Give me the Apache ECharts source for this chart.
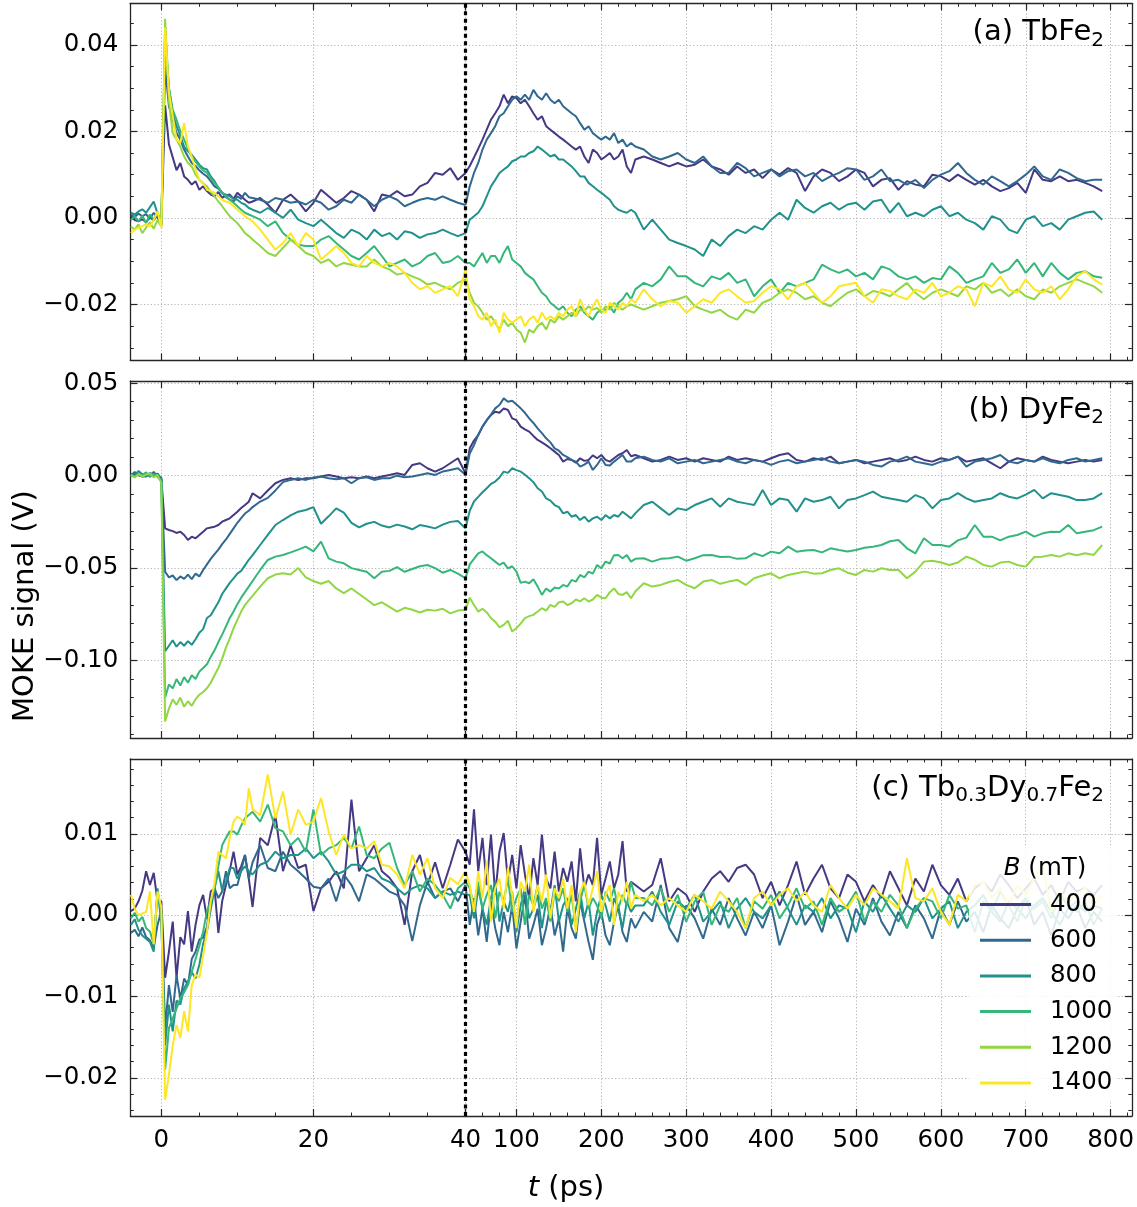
<!DOCTYPE html>
<html>
<head>
<meta charset="utf-8">
<script src="https://cdn.jsdelivr.net/npm/echarts@6/dist/echarts.min.js"></script>
<style>
  html, body { margin: 0; padding: 0; background: #ffffff; }
  #chart { width: 1137px; height: 1207px; }
</style>
</head>
<body>
<div id="chart"></div>
<script>
// Pump-probe delay (ps): dense sampling up to 40 ps, then the long-delay window
const timePs = [
  -4,-3.5,-3,-2.5,-2,-1.5,-1,-0.5,0,0.5,1,1.5,2,2.5,3,3.5,4,4.5,5,5.5,6,6.5,7,7.5,8,8.5,9,9.5,10,10.5,11,11.5,12,
  13,14,15,16,17,18,19,20,21,22,23,24,25,26,27,28,29,30,31,32,33,34,35,36,37,38,39,40,
  45,50,55,60,65,70,75,80,85,90,95,100,105,110,115,120,125,130,135,140,145,150,155,160,165,170,175,180,185,190,195,200,205,210,215,220,225,230,235,240,
  250,260,270,280,290,300,310,320,330,340,350,360,370,380,390,400,410,420,430,440,450,460,470,480,490,500,510,520,530,540,550,560,570,580,590,600,610,620,630,640,650,660,670,680,690,700,710,720,730,740,750,760,770,780,790
];

// Applied field B (mT)
const fieldLabels = ['400', '600', '800', '1000', '1200', '1400'];

// MOKE signal, mV — (a) TbFe2
const tbFe2_400 = [
  0.4,-0.5,-0.8,-0.3,-1.0,0.2,-0.6,0.8,-1.5,26.0,17.0,14.0,11.0,12.7,9.6,8.8,7.7,8.5,6.5,7.3,6.2,5.4,5.0,6.0,4.6,5.2,5.4,4.4,5.8,5.0,4.2,3.5,3.8,
  4.6,3.1,1.2,4.2,5.4,3.8,1.5,3.5,6.5,5.0,3.5,4.6,6.2,5.4,4.2,1.5,5.4,5.0,6.2,5.0,5.4,7.3,8.1,10.4,10.0,11.5,8.8,10.4,
  12.0,14.0,16.0,18.1,20.4,22.7,24.2,25.8,28.5,26.5,28.1,27.7,26.5,27.3,25.8,24.2,22.7,23.5,21.2,20.4,19.6,18.8,18.1,17.3,16.5,15.8,16.5,14.2,12.7,15.8,15.0,13.5,14.2,15.0,13.5,14.2,15.8,11.9,10.4,13.5,
  14.2,13.5,12.7,11.9,12.7,11.9,12.3,13.5,11.9,11.2,10.0,11.9,10.4,11.2,9.2,11.2,10.0,11.5,10.4,6.2,9.6,11.2,10.4,8.5,9.6,11.2,10.4,7.3,8.8,9.2,6.5,8.5,7.7,7.3,10.0,9.6,8.5,10.0,8.8,7.7,8.8,7.3,6.2,6.9,8.1,5.8,11.2,8.8,8.5,9.6,8.5,8.8,8.1,7.3,6.2
];
const tbFe2_600 = [
  0.8,0.2,1.0,0.4,0.9,-0.2,1.2,0.0,-1.2,35.0,25.8,22.7,19.6,18.1,15.8,14.2,12.7,12.0,11.0,10.2,9.6,8.5,7.3,6.8,5.8,4.8,4.2,3.8,5.0,4.4,5.8,4.8,4.6,
  4.2,3.5,4.6,4.2,3.5,3.8,3.1,4.2,3.5,1.9,2.7,4.2,3.5,5.4,4.2,2.7,4.2,5.0,4.2,2.7,3.5,4.2,4.6,4.2,5.0,4.2,3.5,3.0,
  7.3,10.4,12.7,15.8,18.1,19.6,21.2,23.5,24.2,25.8,27.3,28.1,27.3,28.5,27.3,29.6,28.1,27.3,28.8,27.3,26.5,27.3,25.8,25.0,24.2,23.5,21.9,20.4,21.2,19.6,18.8,18.1,18.8,18.1,19.6,17.3,18.1,16.5,17.3,16.5,
  15.8,14.2,13.5,14.2,15.0,13.5,12.7,14.2,11.9,10.4,10.4,12.7,11.5,9.6,10.4,11.2,9.6,10.8,11.2,9.6,10.4,8.5,9.6,10.4,11.5,11.2,8.8,9.6,11.2,8.5,8.8,7.7,8.8,6.9,8.8,10.0,10.8,12.7,10.4,8.8,7.7,9.6,8.5,7.3,8.5,10.0,11.9,9.6,8.8,11.2,10.4,9.2,8.5,8.8,8.8
];
const tbFe2_800 = [
  1.2,0.8,1.5,2.0,1.2,2.5,3.8,1.0,-1.5,41.0,30.0,24.2,21.2,19.0,16.5,15.4,14.6,13.5,12.3,11.5,11.2,9.6,8.5,7.0,5.8,5.4,5.0,4.4,4.2,3.5,3.1,2.3,1.9,
  1.2,2.3,1.2,0.0,1.9,-0.4,-1.2,-1.9,-0.4,-1.9,-3.5,-4.6,-2.7,-3.5,-5.0,-2.7,-4.2,-3.5,-5.0,-3.1,-3.5,-4.6,-3.8,-3.5,-2.7,-3.5,-4.2,-3.5,
  -0.4,0.4,1.2,2.7,5.0,7.3,8.8,10.4,11.2,11.9,13.1,13.5,14.2,14.2,15.0,15.4,16.5,15.8,15.0,14.2,14.6,13.5,13.5,12.7,11.9,10.8,9.6,9.6,8.1,7.3,6.5,5.8,5.0,4.2,2.7,1.9,1.5,1.2,1.9,1.2,
  -2.7,-0.4,-2.7,-5.0,-5.8,-6.5,-7.3,-8.8,-5.0,-6.5,-4.2,-2.7,-3.5,-1.9,-2.7,-0.4,1.2,-0.4,4.2,2.3,1.2,2.7,3.5,1.9,3.1,3.5,1.9,3.8,4.2,1.2,3.5,0.4,1.2,0.4,1.9,2.7,0.4,1.2,-0.4,-1.2,-2.7,0.4,-0.4,-2.7,-3.5,-0.4,0.4,-1.9,-1.2,-2.7,-0.4,0.4,1.2,1.5,-0.4
];
const tbFe2_1000 = [
  -0.5,0.3,-0.8,0.5,-1.2,0.8,-0.4,1.5,-2.0,44.0,30.0,25.0,22.7,20.0,18.1,16.0,14.2,13.0,11.9,11.0,10.4,9.2,8.1,7.0,5.8,5.0,4.2,3.5,2.7,1.9,1.2,0.8,0.4,
  -0.4,-1.9,-0.8,-3.5,-5.0,-6.2,-6.5,-6.5,-5.0,-4.2,-5.8,-7.3,-8.8,-9.6,-8.1,-6.5,-8.8,-11.2,-10.4,-9.6,-11.2,-10.4,-8.8,-8.1,-10.4,-10.0,-8.8,-10.4,
  -10.4,-11.2,-9.6,-8.1,-10.4,-8.8,-8.8,-10.4,-8.1,-6.5,-9.6,-10.4,-11.2,-12.7,-13.5,-14.2,-15.8,-17.3,-18.1,-19.6,-20.4,-21.2,-20.4,-21.9,-22.7,-21.2,-20.4,-21.9,-22.7,-23.5,-21.9,-21.2,-21.2,-20.4,-21.9,-19.6,-18.8,-17.3,-18.8,-16.5,
  -15.0,-15.8,-14.2,-11.2,-13.5,-13.5,-15.0,-15.8,-13.5,-14.2,-12.7,-15.0,-14.2,-18.1,-15.8,-14.2,-17.3,-15.0,-15.8,-15.0,-14.2,-10.8,-11.9,-12.7,-11.9,-13.5,-12.7,-14.2,-11.2,-11.9,-13.5,-14.2,-13.5,-15.0,-13.9,-14.2,-11.2,-12.7,-15.0,-14.2,-13.5,-10.4,-12.7,-11.9,-9.6,-12.7,-10.4,-13.5,-10.4,-12.7,-14.2,-12.7,-12.3,-13.5,-13.8
];
const tbFe2_1200 = [
  -2.0,-2.7,-1.5,-3.5,-2.2,-1.0,-2.5,-0.5,-2.0,46.0,27.0,19.6,18.1,16.5,14.2,12.7,11.9,10.0,8.8,8.0,7.3,6.0,5.0,3.8,2.7,1.5,0.4,-0.4,-1.2,-2.3,-3.5,-4.2,-5.0,
  -6.5,-8.1,-8.8,-6.9,-5.0,-6.5,-8.1,-8.8,-10.4,-9.6,-11.2,-10.4,-10.8,-11.2,-11.2,-9.6,-11.2,-11.9,-13.1,-12.7,-13.5,-14.2,-15.4,-15.0,-15.8,-16.5,-15.0,-14.2,
  -17.3,-19.6,-20.4,-21.9,-23.5,-22.7,-24.2,-25.8,-23.5,-25.0,-24.2,-25.8,-26.5,-28.8,-25.8,-26.5,-25.0,-24.2,-25.8,-23.5,-24.2,-22.7,-23.5,-22.7,-21.9,-22.7,-21.2,-21.5,-20.4,-21.2,-20.8,-21.9,-20.4,-21.2,-19.6,-20.4,-21.2,-20.4,-20.0,-20.4,
  -21.2,-20.4,-19.6,-19.2,-18.8,-18.1,-20.4,-21.2,-21.9,-21.2,-22.7,-23.5,-21.2,-21.9,-19.6,-18.8,-17.3,-16.5,-17.3,-18.8,-18.1,-19.6,-20.4,-18.8,-17.3,-16.5,-18.1,-16.9,-17.3,-18.1,-16.5,-15.0,-17.3,-18.8,-17.3,-16.5,-17.3,-18.1,-15.8,-16.5,-15.0,-17.3,-16.5,-18.1,-16.5,-18.1,-18.8,-16.5,-17.3,-15.8,-15.0,-14.2,-15.0,-15.8,-17.3
];
const tbFe2_1400 = [
  -3.5,-2.7,-2.3,-1.9,-1.5,-2.0,-0.5,1.5,-2.3,44.0,29.0,23.5,18.1,17.3,21.9,16.5,14.2,11.2,8.8,8.1,6.5,6.2,5.8,5.0,4.2,3.8,3.5,2.7,1.9,1.2,0.4,-0.2,-0.8,
  -2.7,-5.0,-7.3,-5.8,-3.5,-6.5,-3.5,-5.0,-9.6,-8.1,-6.5,-8.1,-10.4,-11.2,-8.8,-10.4,-11.2,-10.4,-11.2,-12.7,-15.0,-16.5,-15.8,-17.3,-16.5,-15.8,-18.1,-12.0,
  -18.8,-20.4,-22.7,-23.5,-21.9,-25.0,-23.5,-26.5,-21.9,-23.5,-24.2,-23.5,-22.7,-25.0,-23.5,-22.7,-24.2,-21.9,-23.5,-22.7,-23.5,-21.9,-22.7,-21.2,-20.4,-22.7,-18.8,-21.2,-22.7,-20.4,-18.8,-21.2,-21.9,-19.6,-20.4,-21.2,-19.6,-20.4,-18.8,-19.6,
  -16.5,-18.8,-20.4,-19.2,-19.6,-21.9,-20.4,-18.8,-19.6,-17.3,-16.5,-18.1,-19.6,-19.2,-17.3,-15.8,-16.5,-18.8,-15.8,-15.0,-17.3,-19.6,-18.1,-15.8,-15.4,-15.0,-18.1,-19.6,-16.5,-16.9,-18.1,-18.8,-16.5,-17.3,-15.0,-18.1,-17.3,-15.8,-16.5,-20.4,-15.0,-15.8,-13.5,-16.5,-17.3,-14.2,-16.5,-17.3,-15.8,-18.8,-16.5,-13.5,-12.3,-14.2,-15.4
];

// MOKE signal, mV — (b) DyFe2
const dyFe2_400 = [
  0.5,1.5,0.2,-0.5,-0.3,0.8,-0.4,1.2,-2.0,-28.5,-29.4,-30.0,-31.0,-30.3,-32.1,-34.8,-33.0,-33.9,-32.1,-30.3,-28.5,-28.0,-27.6,-26.7,-24.9,-24.0,-23.1,-21.3,-19.5,-17.5,-15.9,-14.1,-9.5,
  -12.3,-8.0,-4.1,-2.3,-1.4,-2.3,-1.4,-1.4,-0.5,0.4,-0.5,-1.4,-0.9,-1.4,-0.5,-1.4,-0.5,0.4,1.3,0.4,5.8,6.7,4.0,2.2,4.0,6.7,9.4,1.3,
  14.8,19.0,22.0,26.5,30.0,32.8,34.6,34.0,36.4,35.5,31.0,30.0,26.5,25.0,23.8,21.5,19.3,18.0,16.5,14.8,13.0,11.2,7.6,9.0,8.5,7.0,9.4,8.0,8.5,11.0,9.4,11.2,8.5,7.6,9.4,11.2,12.1,13.9,10.5,11.2,
  9.4,7.6,8.5,10.3,8.5,9.4,7.6,9.4,8.5,7.6,10.3,8.5,9.4,8.5,7.6,9.4,11.2,12.1,8.5,7.6,9.4,8.5,10.3,6.7,7.6,8.5,6.7,7.6,8.5,9.4,7.6,8.5,10.3,8.5,7.6,9.4,8.5,10.3,7.6,8.5,9.4,6.7,4.0,7.6,9.4,8.5,7.6,10.3,8.5,7.6,6.7,7.6,8.5,7.6,8.5
];
const dyFe2_600 = [
  -0.5,2.0,0.5,-0.2,1.0,-0.6,2.0,-0.5,-1.0,-52.0,-55.0,-54.0,-56.5,-54.5,-55.8,-53.5,-56.0,-53.0,-54.5,-51.0,-48.0,-45.0,-42.5,-40.0,-37.0,-34.5,-31.5,-28.5,-25.5,-23.0,-20.5,-19.0,-17.0,
  -14.0,-12.0,-8.0,-3.5,-2.3,-1.4,-2.3,-1.0,-0.5,-1.4,-2.0,-1.4,-4.1,-1.4,-0.9,-2.3,-1.4,-1.4,0.0,-0.9,-0.5,0.4,1.3,0.4,2.2,3.1,4.0,0.5,
  12.0,16.5,22.0,26.5,30.0,33.0,36.4,38.2,41.8,40.0,40.5,38.5,36.4,34.0,31.0,28.5,25.6,23.0,20.2,18.0,14.8,13.5,11.2,10.0,8.5,7.6,4.9,6.0,7.6,3.1,5.8,9.4,5.8,5.5,7.6,9.4,11.2,7.6,7.6,9.4,
  10.3,8.5,7.6,9.4,6.7,7.6,8.5,6.7,7.6,8.5,9.4,7.6,6.7,8.5,7.6,5.8,7.6,8.5,6.7,7.6,8.5,9.4,7.6,6.7,7.6,8.5,7.6,5.8,4.9,7.6,8.5,10.3,7.6,6.7,5.8,7.6,8.5,10.3,4.9,7.6,8.5,9.4,11.2,7.6,6.7,8.5,7.6,9.4,7.6,6.7,8.5,9.4,7.6,8.5,9.4
];
const dyFe2_800 = [
  1.0,0.2,2.5,0.8,-0.5,1.5,0.4,0.9,-2.0,-95.0,-92.0,-89.0,-92.5,-90.0,-92.0,-89.5,-91.5,-88.5,-85.0,-83.0,-77.0,-75.5,-72.0,-68.5,-64.0,-61.0,-58.0,-55.5,-53.0,-51.5,-48.5,-45.5,-43.0,
  -37.5,-32.0,-26.7,-24.0,-21.5,-19.5,-18.6,-17.0,-26.0,-22.0,-17.7,-20.0,-25.5,-28.0,-26.0,-25.0,-27.0,-28.0,-26.5,-27.5,-29.0,-26.7,-27.5,-28.5,-26.5,-25.0,-24.5,-28.5,
  -19.0,-14.0,-11.5,-9.0,-6.8,-4.5,-3.2,-1.0,2.2,1.5,4.0,3.0,2.2,0.5,-1.4,-3.5,-6.8,-8.6,-12.3,-13.5,-15.9,-17.0,-20.4,-19.5,-22.2,-21.3,-24.0,-22.2,-24.9,-23.1,-22.2,-24.0,-21.3,-23.1,-21.3,-22.2,-19.5,-21.3,-23.1,-20.4,
  -15.9,-14.1,-17.7,-21.3,-17.7,-18.6,-15.9,-14.1,-12.3,-16.8,-12.3,-14.1,-15.0,-15.9,-7.7,-15.9,-12.3,-13.2,-19.5,-12.3,-14.1,-13.2,-11.4,-17.7,-13.2,-12.3,-10.5,-8.6,-11.4,-12.3,-13.2,-14.1,-10.5,-12.3,-17.7,-13.2,-12.3,-9.5,-12.3,-14.1,-13.2,-12.3,-9.5,-11.4,-12.3,-10.3,-7.7,-12.3,-9.5,-10.5,-11.4,-13.2,-13.2,-12.3,-9.5
];
const dyFe2_1000 = [
  0.2,-0.8,1.0,0.3,1.8,-0.4,0.9,-0.6,-3.0,-120.0,-113.0,-115.0,-110.0,-113.5,-109.0,-112.0,-108.0,-110.0,-106.0,-104.0,-102.0,-98.0,-94.5,-90.0,-86.0,-81.5,-77.0,-73.5,-69.5,-66.0,-63.0,-60.0,-57.0,
  -51.0,-45.6,-43.8,-42.9,-41.5,-40.0,-38.4,-41.0,-35.7,-44.7,-46.5,-47.4,-50.0,-51.0,-52.0,-55.5,-52.0,-51.5,-49.5,-52.0,-50.5,-49.0,-48.3,-50.0,-52.5,-51.0,-53.0,-55.5,
  -48.0,-45.0,-42.0,-41.0,-43.0,-44.7,-46.5,-48.3,-47.0,-50.1,-49.0,-51.9,-58.0,-57.3,-58.2,-56.0,-60.0,-64.5,-61.0,-62.7,-60.5,-61.0,-59.1,-60.0,-56.4,-57.3,-53.7,-55.0,-51.9,-53.0,-48.3,-50.1,-46.5,-47.5,-43.0,-42.9,-44.7,-43.0,-46.5,-45.0,
  -44.7,-46.5,-45.0,-44.7,-43.8,-46.0,-44.7,-43.0,-42.9,-44.0,-43.8,-45.0,-44.7,-42.0,-43.5,-41.1,-42.0,-38.4,-41.1,-40.5,-40.2,-41.5,-39.3,-40.2,-41.0,-40.2,-39.0,-38.4,-37.5,-35.5,-34.8,-39.3,-42.0,-33.9,-37.5,-37.5,-38.4,-35.0,-33.5,-26.7,-33.0,-33.0,-35.0,-33.0,-32.1,-30.3,-33.0,-31.2,-30.3,-30.5,-26.7,-31.2,-30.3,-29.5,-27.6
];
const dyFe2_1200 = [
  0.5,-1.0,0.8,-0.5,0.6,1.2,-0.9,0.4,-4.0,-133.0,-126.0,-121.0,-124.0,-120.0,-125.0,-122.0,-124.5,-121.0,-118.5,-117.0,-115.0,-112.0,-108.0,-104.0,-99.0,-93.0,-88.0,-82.5,-78.0,-73.5,-70.0,-67.5,-65.0,
  -60.0,-55.5,-53.5,-52.8,-53.5,-50.0,-55.0,-57.0,-58.5,-57.0,-61.0,-63.5,-61.0,-64.0,-67.0,-70.0,-68.5,-71.0,-73.5,-71.5,-72.5,-74.0,-72.5,-73.0,-72.0,-74.5,-73.0,-72.6,
  -66.0,-70.0,-73.5,-72.0,-74.0,-77.0,-79.0,-82.0,-80.7,-78.5,-84.3,-82.5,-80.0,-77.1,-76.0,-75.3,-73.5,-71.7,-73.0,-69.9,-71.0,-68.5,-68.1,-70.0,-69.0,-67.0,-68.0,-66.3,-68.1,-67.0,-64.5,-66.0,-66.3,-63.0,-61.0,-64.0,-64.5,-63.0,-66.3,-62.7,
  -58.2,-60.0,-59.1,-57.5,-56.4,-59.1,-60.9,-57.3,-56.4,-58.5,-57.3,-56.4,-59.1,-55.5,-54.0,-52.8,-55.5,-53.7,-52.8,-51.9,-53.0,-52.8,-51.0,-50.1,-52.5,-53.7,-51.0,-51.9,-50.1,-51.0,-51.0,-55.5,-51.9,-46.5,-46.0,-47.0,-48.3,-47.0,-43.8,-45.5,-48.3,-49.2,-47.0,-46.5,-48.3,-49.2,-44.0,-43.8,-42.9,-43.8,-42.0,-43.0,-42.0,-42.9,-37.5
];

// MOKE signal, mV — (c) Tb0.3Dy0.7Fe2
const tbDyFe2_400 = [
  0.5,0.8,1.7,3.0,5.4,3.7,5.2,1.7,1.7,-7.7,-4.5,-0.8,-7.7,-2.7,-3.6,0.5,-4.5,-1.2,1.2,2.5,-0.5,2.9,3.3,-2.2,1.7,3.7,5.5,7.8,5.0,6.0,7.4,4.5,1.0,
  9.5,8.6,12.3,5.4,8.6,5.8,6.2,0.5,3.3,4.1,5.4,3.3,14.2,5.4,7.0,8.6,5.4,4.6,3.3,-1.2,5.4,7.4,3.7,6.5,3.3,6.2,9.3,7.8,
  6.2,13.0,5.4,9.5,3.7,9.9,2.5,7.8,10.1,4.1,7.4,3.3,8.6,5.0,2.1,7.0,3.7,9.9,4.5,3.3,7.8,2.9,5.8,4.1,6.6,1.7,8.2,3.3,5.0,3.7,9.5,2.5,4.5,6.6,3.3,5.0,9.1,2.9,4.1,3.7,
  2.9,3.7,7.0,1.7,3.3,2.5,0.4,2.9,4.5,5.4,4.1,5.8,6.2,5.0,2.1,4.1,1.2,3.7,6.6,2.5,4.5,6.2,3.3,2.1,5.0,4.1,1.7,3.7,2.1,5.4,3.3,1.2,4.5,2.9,6.2,3.7,2.5,4.5,1.7,3.3,4.1,2.9,5.0,3.7,2.1,3.3,4.5,2.5,3.7,1.7,4.1,2.9,3.3,2.5,3.7
];
const tbDyFe2_600 = [
  -2.2,-1.8,-2.6,-1.5,-2.7,-3.1,-4.0,-1.2,0.5,-13.9,-8.6,-11.9,-7.4,-10.3,-7.8,-8.6,-5.4,-4.5,-3.0,-2.8,-1.4,1.7,3.3,2.1,2.9,5.4,3.3,3.7,3.7,5.5,7.4,4.5,6.5,
  8.6,5.8,5.4,7.8,6.2,5.4,4.5,3.5,3.3,4.5,1.7,5.0,3.7,1.7,5.0,4.5,3.7,2.9,2.5,1.2,-3.2,1.2,4.1,2.1,2.9,3.3,1.7,3.7,
  -1.2,2.1,-2.5,0.8,-3.3,1.7,-1.6,-3.7,0.4,-2.1,1.2,-4.1,-0.8,2.5,-2.9,-1.2,0.8,-3.7,-1.6,1.2,-2.5,-0.4,-4.5,0.8,-1.6,-2.9,1.7,-0.8,-3.3,-5.5,-1.2,0.4,-2.5,-3.7,-0.8,1.2,-2.1,-3.3,-0.4,-1.6,
  0.4,-0.8,3.7,-1.6,-3.3,1.2,-0.4,-2.9,0.8,-1.2,2.1,-0.4,-2.5,0.4,-1.6,1.2,-3.7,-0.8,2.5,-1.2,0.4,-2.1,1.7,-0.4,-3.3,0.8,-1.2,2.1,-0.8,-2.5,0.4,-1.6,1.2,-0.4,-2.9,0.8,-1.2,1.7,-0.8,0.4,-2.1,1.2,-0.4,-1.6,0.8,2.1,-1.2,0.4,-2.5,0.8,-0.4,1.2,-1.6,0.4,-0.8
];
const tbDyFe2_800 = [
  -1.2,-0.5,-1.8,-2.5,-2.9,-3.3,-4.5,3.3,-1.0,-16.0,-11.0,-14.3,-10.5,-11.0,-9.0,-8.2,-7.0,-7.8,-6.1,-3.5,-2.0,0.7,3.3,5.4,3.0,4.1,5.8,5.8,4.5,5.4,6.0,5.4,5.0,
  6.2,6.6,7.8,7.0,7.4,7.4,8.2,7.0,7.8,6.6,5.0,5.4,6.2,6.2,5.4,5.8,4.5,4.1,3.3,2.5,3.3,3.7,3.3,2.1,2.9,2.5,2.9,2.5,
  2.5,-0.4,3.3,0.8,-1.2,2.1,4.1,-0.8,1.7,0.4,2.9,-2.1,1.2,3.3,-0.4,0.8,2.5,-1.6,1.7,0.4,3.7,-0.8,1.2,2.1,-1.2,0.8,2.9,-0.4,1.7,-2.5,0.4,2.5,1.2,-0.8,2.1,0.8,-1.6,1.7,0.4,1.2,
  1.2,2.9,0.4,-1.2,1.7,0.8,2.5,-0.8,0.4,1.7,-1.6,0.8,2.1,0.4,-0.4,1.2,2.9,0.8,-1.2,1.2,0.4,2.1,-0.4,1.2,0.8,-2.1,1.7,0.4,2.5,0.8,-0.8,1.2,0.4,2.1,-0.4,0.8,1.7,-1.6,0.4,1.2,2.5,0.4,-0.8,1.7,0.8,-0.4,1.2,2.1,0.4,-1.2,0.8,1.7,0.4,1.2,0.8
];
const tbDyFe2_1000 = [
  -0.4,0.3,-0.8,-0.2,-1.6,-2.0,-3.5,2.9,0.2,-19.0,-13.9,-12.7,-11.5,-10.2,-9.5,-8.6,-7.0,-5.4,-3.8,-2.0,0.5,1.7,3.3,6.0,8.6,9.5,10.3,10.3,9.9,11.0,11.9,12.3,12.7,
  11.5,13.6,10.7,10.3,8.6,9.5,7.8,13.0,7.4,8.2,8.6,9.5,8.2,10.9,7.4,7.0,8.2,8.9,5.8,3.7,5.4,2.9,4.5,3.7,2.5,0.8,3.3,4.1,
  3.3,1.2,4.1,0.8,2.5,3.7,-0.4,2.9,1.7,4.5,0.4,2.1,3.3,-1.2,2.5,1.2,3.7,0.8,2.1,-0.8,2.9,1.7,3.3,0.4,2.5,-1.6,1.7,3.7,0.8,2.1,1.2,-0.4,2.9,1.7,3.3,0.8,2.5,1.2,4.1,2.1,
  2.1,1.2,3.3,0.4,2.5,-0.8,1.7,2.9,-1.2,1.2,0.4,2.1,-1.6,1.7,0.8,2.5,-0.4,1.2,3.3,0.8,1.7,-1.2,2.1,0.4,1.2,2.9,-0.8,1.7,0.4,2.5,1.2,-1.6,0.8,2.1,1.7,-0.4,2.5,0.8,1.2,-2.1,1.7,0.4,2.9,1.2,-0.8,2.1,0.8,1.7,-0.4,2.5,1.2,0.4,1.7,-1.2,0.8
];
const tbDyFe2_1400 = [
  2.5,0.8,0.0,0.2,0.4,2.9,-3.6,2.9,1.0,-22.7,-19.6,-16.0,-13.5,-15.1,-11.8,-14.3,-8.6,-7.3,-7.7,-5.0,-2.0,1.7,4.0,7.8,7.4,7.0,9.5,11.5,12.1,11.8,11.1,15.6,13.0,
  12.3,17.3,11.9,15.2,9.9,13.0,11.1,11.5,14.4,10.3,7.4,9.9,8.2,8.6,8.2,9.1,6.2,6.0,5.0,3.3,7.4,5.0,7.0,3.3,2.1,4.6,3.8,5.4,
  3.7,0.4,5.4,2.1,6.6,-0.8,3.3,4.5,0.8,5.8,2.5,-1.6,4.1,2.9,6.2,0.4,3.7,1.7,5.0,-0.4,3.3,2.1,4.5,0.8,3.7,-2.1,2.9,4.1,1.2,3.3,5.4,0.4,2.5,3.7,-1.2,2.9,1.7,4.1,0.8,2.5,
  1.7,2.5,1.2,2.1,1.2,0.4,2.5,1.7,0.8,2.9,1.7,0.4,-1.6,2.1,2.9,1.2,2.5,3.3,1.7,2.9,1.2,0.4,3.7,2.1,0.8,2.5,1.2,3.3,2.5,1.7,0.8,7.0,2.1,1.7,3.3,0.4,-1.2,2.5,1.7,3.7,4.1,2.1,3.3,1.2,3.7,2.5,4.5,6.2,0.4,2.9,1.7,2.5,3.3,1.2,2.5
];

// Tick values
const xTicksLeft = [0, 20, 40];
const xTicksRight = [40, 100, 200, 300, 400, 500, 600, 700, 800];
const xLabelsRight = [100, 200, 300, 400, 500, 600, 700, 800];
const yTicksA = [-0.02, 0, 0.02, 0.04];
const yTicksB = [-0.10, -0.05, 0, 0.05];
const yTicksC = [-0.02, -0.01, 0, 0.01];

const lineColors = ['#443983', '#31688e', '#21918c', '#35b779', '#90d743', '#fde725'];

const FONT = '"DejaVu Sans", "Noto Sans", sans-serif';
const TICK_FONT = 24.5;
const LABEL_FONT = 29;
const frameStyle = { color: '#262626', width: 1.3 };
const gridStyle = { color: '#b4b4b4', width: 1, type: [1.2, 2.2] };

const X_LEFT_MIN = -4.08, X_BREAK = 40, X_RIGHT_MAX = 825;
const GRID_LEFT = 130.3, GRID_BREAK = 465.5, GRID_RIGHT = 1131.9, GRID_H = 357;

const panels = [
  { top: 3.3, yMin: -0.0329, yMax: 0.0496, yMajor: yTicksA, yMinorStep: 0.005,
    title: '(a) TbFe{s|2}',
    series: [['400', tbFe2_400], ['600', tbFe2_600], ['800', tbFe2_800], ['1000', tbFe2_1000], ['1200', tbFe2_1200], ['1400', tbFe2_1400]] },
  { top: 381, yMin: -0.1419, yMax: 0.0512, yMajor: yTicksB, yMinorStep: 0.01,
    title: '(b) DyFe{s|2}',
    series: [['400', dyFe2_400], ['600', dyFe2_600], ['800', dyFe2_800], ['1000', dyFe2_1000], ['1200', dyFe2_1200]] },
  { top: 759, yMin: -0.0247, yMax: 0.0192, yMajor: yTicksC, yMinorStep: 0.002,
    title: '(c) Tb{s|0.3}Dy{s|0.7}Fe{s|2}',
    series: [['400', tbDyFe2_400], ['600', tbDyFe2_600], ['800', tbDyFe2_800], ['1000', tbDyFe2_1000], ['1400', tbDyFe2_1400]] }
];

function minorValues(min, max, step, majors) {
  const out = [];
  const k0 = Math.ceil(min / step - 1e-9), k1 = Math.floor(max / step + 1e-9);
  for (let k = k0; k <= k1; k++) {
    const v = +(k * step).toFixed(6);
    if (!majors.some(m => Math.abs(m - v) < 1e-9)) out.push(v);
  }
  return out;
}
const fmtNum = v => (v < 0 ? '\u2212' : '') + Math.abs(v).toFixed(2);

const grids = [], xAxes = [], yAxes = [], series = [];

function addXAxes(gridIndex, min, max, majors, minors, labels) {
  const base = { gridIndex, type: 'value', min, max, splitNumber: 1 };
  const idx = xAxes.length;
  xAxes.push(Object.assign({}, base, {
    position: 'bottom',
    axisLine: { show: true, onZero: false, lineStyle: frameStyle },
    axisTick: { show: true, inside: true, length: 7, customValues: majors, lineStyle: { color: '#262626', width: 1.2 } },
    axisLabel: labels ? { show: true, customValues: labels, margin: 12, fontSize: TICK_FONT, fontFamily: FONT, color: '#000',
      formatter: v => String(v) } : { show: false },
    splitLine: { show: true, lineStyle: gridStyle }
  }));
  xAxes.push(Object.assign({}, base, {
    position: 'bottom', axisLine: { show: false, onZero: false },
    axisTick: { show: true, inside: true, length: 3.5, customValues: minors, lineStyle: { color: '#262626', width: 1 } },
    axisLabel: { show: false }, splitLine: { show: false }
  }));
  xAxes.push(Object.assign({}, base, {
    position: 'top', axisLine: { show: true, onZero: false, lineStyle: frameStyle },
    axisTick: { show: true, inside: true, length: 7, customValues: majors, lineStyle: { color: '#262626', width: 1.2 } },
    axisLabel: { show: false }, splitLine: { show: false }
  }));
  xAxes.push(Object.assign({}, base, {
    position: 'top', axisLine: { show: false, onZero: false },
    axisTick: { show: true, inside: true, length: 3.5, customValues: minors, lineStyle: { color: '#262626', width: 1 } },
    axisLabel: { show: false }, splitLine: { show: false }
  }));
  return idx;
}

function addYAxes(gridIndex, side, min, max, majors, minors, withLabels) {
  const base = { gridIndex, type: 'value', min, max, splitNumber: 1, position: side };
  const idx = yAxes.length;
  yAxes.push(Object.assign({}, base, {
    axisLine: { show: true, onZero: false, lineStyle: frameStyle },
    axisTick: { show: true, inside: true, length: 7, customValues: majors, lineStyle: { color: '#262626', width: 1.2 } },
    axisLabel: withLabels ? { show: true, customValues: majors, margin: 12, fontSize: TICK_FONT, fontFamily: FONT, color: '#000', formatter: fmtNum } : { show: false },
    splitLine: { show: true, lineStyle: gridStyle }
  }));
  yAxes.push(Object.assign({}, base, {
    axisLine: { show: false, onZero: false },
    axisTick: { show: true, inside: true, length: 3.5, customValues: minors, lineStyle: { color: '#262626', width: 1 } },
    axisLabel: { show: false }, splitLine: { show: false }
  }));
  return idx;
}

const xMinorLeft = minorValues(X_LEFT_MIN, X_BREAK, 5, xTicksLeft);
const xMinorRight = minorValues(X_BREAK, X_RIGHT_MAX, 20, xTicksRight);

const graphics = [];

panels.forEach((p, pi) => {
  const gL = grids.length;
  grids.push({ left: GRID_LEFT, top: p.top, width: GRID_BREAK - GRID_LEFT, height: GRID_H });
  const gR = grids.length;
  grids.push({ left: GRID_BREAK, top: p.top, width: GRID_RIGHT - GRID_BREAK, height: GRID_H });

  const bottomPanel = pi === panels.length - 1;
  const xL = addXAxes(gL, X_LEFT_MIN, X_BREAK, xTicksLeft, xMinorLeft, bottomPanel ? xTicksLeft : null);
  const xR = addXAxes(gR, X_BREAK, X_RIGHT_MAX, xTicksRight, xMinorRight, bottomPanel ? xLabelsRight : null);

  const yMinor = minorValues(p.yMin, p.yMax, p.yMinorStep, p.yMajor);
  const yL = addYAxes(gL, 'left', p.yMin, p.yMax, p.yMajor, yMinor, true);
  const yR = addYAxes(gR, 'right', p.yMin, p.yMax, p.yMajor, yMinor, false);
  // dotted divider where the time scale changes (t = 40 ps)
  yAxes.push({
    gridIndex: gR, type: 'value', min: p.yMin, max: p.yMax, position: 'left', z: 5,
    axisLine: { show: true, onZero: false, lineStyle: { color: '#000', width: 3.2, type: [4, 3.5], cap: 'butt' } },
    axisTick: { show: false }, axisLabel: { show: false }, splitLine: { show: false }
  });

  p.series.forEach(([name, values]) => {
    const color = lineColors[fieldLabels.indexOf(name)];
    const pts = timePs.map((t, i) => [t, values[i] / 1000]).filter(d => d[1] !== undefined && !isNaN(d[1]));
    const common = {
      type: 'line', name, symbol: 'none', showSymbol: false, animation: false,
      lineStyle: { color, width: 2 }, itemStyle: { color }, emphasis: { disabled: true }
    };
    series.push(Object.assign({}, common, { xAxisIndex: xL, yAxisIndex: yL, data: pts.filter(d => d[0] <= X_BREAK) }));
    series.push(Object.assign({}, common, { xAxisIndex: xR, yAxisIndex: yR, data: pts.filter(d => d[0] >= X_BREAK) }));
  });

  graphics.push({
    type: 'text', x: 1104, y: p.top + 29, z: 30,
    style: {
      text: p.title, fill: '#000', fontFamily: FONT, fontSize: LABEL_FONT, lineHeight: 36,
      align: 'right', verticalAlign: 'middle',
      rich: { s: { fontSize: 20, fontFamily: FONT, fill: '#000', verticalAlign: 'bottom', lineHeight: 14 } }
    }
  });
});

// legend backdrop and title
graphics.push({
  type: 'rect', z: 20,
  shape: { x: 969, y: 846, width: 149, height: 254, r: 4 },
  style: { fill: 'rgba(255,255,255,0.85)' }
});
graphics.push({
  type: 'text', x: 1045, y: 869, z: 31,
  style: {
    text: '{i|B} (mT)', fill: '#000', fontFamily: FONT, fontSize: TICK_FONT,
    align: 'center', verticalAlign: 'middle',
    rich: { i: { fontStyle: 'italic', fontFamily: FONT, fontSize: TICK_FONT, fill: '#000' } }
  }
});
// axis titles
graphics.push({
  type: 'text', x: 566, y: 1188, z: 30,
  style: {
    text: '{i|t} (ps)', fill: '#000', fontFamily: FONT, fontSize: LABEL_FONT,
    align: 'center', verticalAlign: 'middle',
    rich: { i: { fontStyle: 'italic', fontFamily: FONT, fontSize: LABEL_FONT, fill: '#000' } }
  }
});
graphics.push({
  type: 'text', x: 25, y: 606, rotation: Math.PI / 2, z: 30,
  style: {
    text: 'MOKE signal (V)', fill: '#000', fontFamily: FONT, fontSize: LABEL_FONT,
    align: 'center', verticalAlign: 'middle'
  }
});

const chart = echarts.init(document.getElementById('chart'), null, { renderer: 'canvas' });
chart.setOption({
  animation: false,
  backgroundColor: '#ffffff',
  grid: grids,
  xAxis: xAxes,
  yAxis: yAxes,
  series,
  graphic: { elements: graphics },
  legend: {
    data: fieldLabels,
    orient: 'vertical',
    left: 980, top: 890.5,
    padding: 0,
    itemWidth: 51, itemHeight: 3, itemGap: 7.7,
    icon: 'rect',
    selectedMode: false,
    z: 40,
    textStyle: { fontSize: TICK_FONT, fontFamily: FONT, color: '#000', lineHeight: 28, padding: [0, 0, 0, 14] }
  }
});
</script>
</body>
</html>
